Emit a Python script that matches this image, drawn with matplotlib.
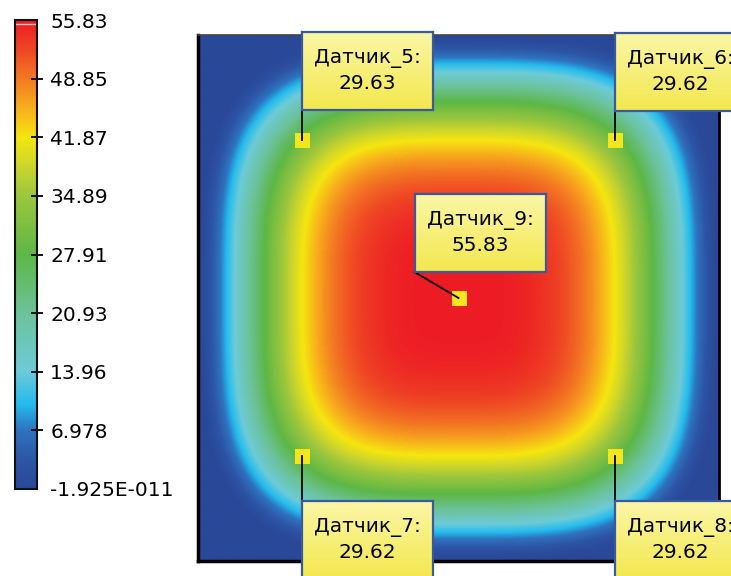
import numpy as np
import matplotlib
matplotlib.use("Agg")
import matplotlib.pyplot as plt
from matplotlib.colors import LinearSegmentedColormap, Normalize
from matplotlib.lines import Line2D
import matplotlib.cm as cm

# ---- data -------------------------------------------------------------
T_MIN = -1.925e-11
T_MAX = 55.83
cbar_ticks = [T_MIN, 6.978, 13.96, 20.93, 27.91, 34.89, 41.87, 48.85, 55.83]
cbar_labels = ["-1.925E-011", "6.978", "13.96", "20.93", "27.91",
               "34.89", "41.87", "48.85", "55.83"]

sensor_names = ["Датчик_5", "Датчик_6", "Датчик_7", "Датчик_8", "Датчик_9"]
sensor_x = [0.2, 0.8, 0.2, 0.8, 0.5]
sensor_y = [0.8, 0.8, 0.2, 0.2, 0.5]
sensor_values = [29.63, 29.62, 29.62, 29.62, 55.83]

# label box placement (pixels, relative to the sensor): leader end point
box_dx = [0, 0, 0, 0, -44]
box_dy = [30, 29, -45, -45, 26]      # positive = box above the sensor
box_w, box_h = 131, 78

# ---- temperature field on the unit plate --------------------------------
# T = Tmax * (1 - r^a)^b, r = superellipse distance (exponent q) from the
# plate centre; a is chosen so that the corner sensors read their value
q, b_exp = 3.5, 1.5
u_s = abs(2 * sensor_x[0] - 1)
r_s = u_s * 2 ** (1 / q)
a_exp = np.log(1 - (sensor_values[0] / T_MAX) ** (1 / b_exp)) / np.log(r_s)

n = 500
xs = np.linspace(0, 1, n)
ys = np.linspace(0, 1, n)
X, Y = np.meshgrid(xs, ys)
U = np.abs(2 * X - 1)
V = np.abs(2 * Y - 1)
R = (U ** q + V ** q) ** (1 / q)
T = T_MAX * np.clip(1 - R ** a_exp, 0, None) ** b_exp

# ---- colour map --------------------------------------------------------
stops = [
    (0.000, "#2a4898"),
    (0.060, "#2d55a6"),
    (0.125, "#2e73bf"),
    (0.180, "#23bcee"),
    (0.250, "#6ccbd8"),
    (0.375, "#6cc29a"),
    (0.500, "#5db746"),
    (0.625, "#9cc63c"),
    (0.690, "#cdd52c"),
    (0.750, "#f5e60f"),
    (0.810, "#f8b21c"),
    (0.875, "#f37a22"),
    (0.940, "#ef4524"),
    (1.000, "#ed1c24"),
]
cmap = LinearSegmentedColormap.from_list("thermal", stops)
norm = Normalize(vmin=T_MIN, vmax=T_MAX)
box_cmap = LinearSegmentedColormap.from_list("note", ["#f3e84e", "#faf6a6"])

# ---- figure ------------------------------------------------------------
W, H = 731, 576
fig = plt.figure(figsize=(W / 100, H / 100), dpi=100)
fig.patch.set_facecolor("white")
plt.rcParams["font.family"] = ["DejaVu Sans"]

def px_axes(left, top, width, height, **kw):
    return fig.add_axes([left / W, (H - top - height) / H, width / W, height / H], **kw)

# plate
ax = px_axes(198, 35, 521, 526)
ax.imshow(T, origin="lower", extent=(0, 1, 0, 1), cmap=cmap, norm=norm,
          interpolation="bilinear", aspect="auto")
ax.set_xlim(0, 1)
ax.set_ylim(0, 1)
ax.set_xticks([])
ax.set_yticks([])
for side, lw in (("left", 2.5), ("bottom", 2.5), ("right", 2.0), ("top", 1.2)):
    ax.spines[side].set_linewidth(lw)
    ax.spines[side].set_color("black" if side != "top" else "#444444")

# colour bar
cax = px_axes(15, 20, 22, 469)
sm = cm.ScalarMappable(norm=norm, cmap=cmap)
cb = fig.colorbar(sm, cax=cax)
cb.outline.set_linewidth(1.5)
cb.outline.set_edgecolor("#111111")
cb.set_ticks(cbar_ticks)
cb.set_ticklabels(cbar_labels)
cax.tick_params(axis="y", direction="inout", length=9, width=1.3,
                labelsize=14.5, pad=5, colors="black")
for t in (cax.yaxis.get_major_ticks()[0], cax.yaxis.get_major_ticks()[-1]):
    t.tick1line.set_visible(False)
    t.tick2line.set_visible(False)
cax.axhline(T_MAX * 0.992, color="#f6c0c0", lw=1.0)

# sensors, leaders and label boxes
fig.canvas.draw()
grad = np.linspace(0, 1, 64).reshape(-1, 1)
for name, sx, sy, val, dx, dy in zip(sensor_names, sensor_x, sensor_y,
                                     sensor_values, box_dx, box_dy):
    px, py = ax.transData.transform((sx, sy))
    cx, cy = px + dx, py + dy
    by0 = cy if dy > 0 else cy - box_h
    fig.add_artist(Line2D([px, cx], [py, cy], color="black", lw=1.3,
                          transform=None, zorder=5))
    bax = fig.add_axes([cx / W, by0 / H, box_w / W, box_h / H], zorder=10)
    bax.imshow(grad, origin="lower", extent=(0, 1, 0, 1), cmap=box_cmap,
               aspect="auto", interpolation="bilinear")
    bax.set_xlim(0, 1)
    bax.set_ylim(0, 1)
    bax.set_xticks([])
    bax.set_yticks([])
    for sp in bax.spines.values():
        sp.set_color("#3a5aa0")
        sp.set_linewidth(1.6)
    bax.text(0.5, 0.5, f"{name}:\n{val:.2f}", transform=bax.transAxes,
             ha="center", va="center", fontsize=14.5, linespacing=1.4,
             color="black")
    ax.plot([sx], [sy], marker="s", markersize=10.8, color="#f3e61c",
            markeredgewidth=0, zorder=8, clip_on=False)

fig.savefig("out.png", dpi=100)
